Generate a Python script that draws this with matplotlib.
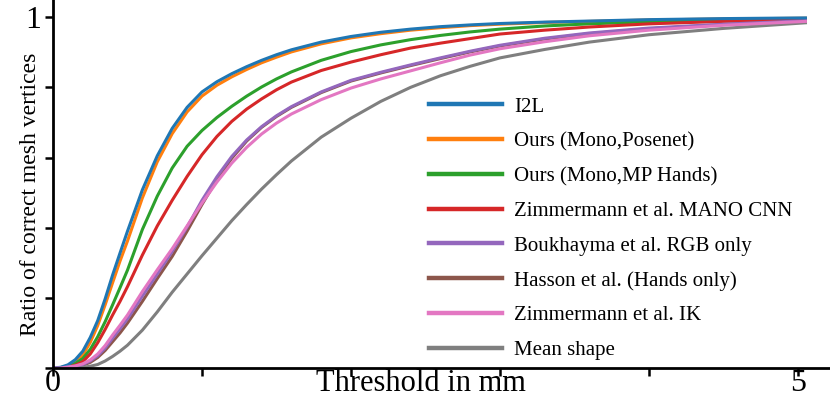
import matplotlib
matplotlib.use("Agg")
import matplotlib.pyplot as plt

plt.rcParams['font.family'] = ['Liberation Serif', 'DejaVu Serif']

thresholds = [0, 0.05, 0.1, 0.15, 0.2, 0.25, 0.3, 0.35, 0.4, 0.45, 0.5, 0.6, 0.7, 0.8, 0.9, 1.0,
              1.1, 1.2, 1.3, 1.4, 1.5, 1.6, 1.8, 2.0, 2.2, 2.4, 2.6, 2.8, 3.0, 3.3, 3.6, 4.0, 4.5, 5.05]

i2l          = [0, 0.002, 0.009, 0.024, 0.048, 0.087, 0.135, 0.197, 0.265, 0.328, 0.390, 0.508, 0.605, 0.683, 0.743, 0.787,
                0.816, 0.839, 0.859, 0.877, 0.893, 0.907, 0.929, 0.945, 0.957, 0.966, 0.973, 0.978, 0.982, 0.986, 0.989, 0.993, 0.996, 0.998]
ours_posenet = [0, 0.001, 0.006, 0.017, 0.037, 0.073, 0.121, 0.180, 0.243, 0.305, 0.362, 0.485, 0.588, 0.668, 0.730, 0.775,
                0.806, 0.830, 0.851, 0.870, 0.886, 0.901, 0.924, 0.941, 0.953, 0.963, 0.970, 0.976, 0.980, 0.985, 0.988, 0.992, 0.995, 0.997]
ours_mp      = [0, 0.001, 0.005, 0.013, 0.027, 0.053, 0.089, 0.132, 0.180, 0.229, 0.279, 0.395, 0.490, 0.570, 0.632, 0.677,
                0.714, 0.746, 0.775, 0.801, 0.824, 0.844, 0.877, 0.902, 0.921, 0.936, 0.948, 0.958, 0.966, 0.975, 0.981, 0.987, 0.991, 0.995]
zimm_mano    = [0, 0.0005, 0.003, 0.008, 0.018, 0.040, 0.072, 0.110, 0.151, 0.190, 0.232, 0.322, 0.405, 0.478, 0.546, 0.608,
                0.660, 0.703, 0.738, 0.767, 0.793, 0.815, 0.848, 0.872, 0.893, 0.912, 0.926, 0.939, 0.952, 0.963, 0.972, 0.981, 0.988, 0.993]
boukhayma    = [0, 0.0, 0.002, 0.005, 0.010, 0.020, 0.035, 0.057, 0.085, 0.112, 0.140, 0.205, 0.268, 0.332, 0.402, 0.478,
                0.545, 0.603, 0.650, 0.688, 0.719, 0.745, 0.787, 0.820, 0.843, 0.864, 0.884, 0.903, 0.920, 0.940, 0.955, 0.969, 0.980, 0.990]
hasson       = [0, 0.0, 0.001, 0.004, 0.008, 0.016, 0.030, 0.050, 0.075, 0.100, 0.128, 0.190, 0.255, 0.318, 0.390, 0.466,
                0.537, 0.598, 0.647, 0.686, 0.717, 0.743, 0.785, 0.818, 0.841, 0.862, 0.882, 0.901, 0.918, 0.938, 0.953, 0.967, 0.979, 0.989]
zimm_ik      = [0, 0.0, 0.003, 0.006, 0.012, 0.023, 0.040, 0.064, 0.094, 0.122, 0.151, 0.218, 0.280, 0.340, 0.405, 0.470,
                0.530, 0.584, 0.629, 0.667, 0.698, 0.724, 0.765, 0.798, 0.824, 0.847, 0.870, 0.892, 0.910, 0.930, 0.947, 0.963, 0.977, 0.988]
mean_shape   = [0, 0.0, 0.0, 0.001, 0.002, 0.005, 0.010, 0.020, 0.033, 0.048, 0.065, 0.108, 0.160, 0.216, 0.268, 0.320,
                0.370, 0.420, 0.466, 0.510, 0.551, 0.590, 0.658, 0.712, 0.760, 0.800, 0.833, 0.860, 0.884, 0.908, 0.929, 0.950, 0.968, 0.984]

labels = ["I2L", "Ours (Mono,Posenet)", "Ours (Mono,MP Hands)", "Zimmermann et al. MANO CNN",
          "Boukhayma et al. RGB only", "Hasson et al. (Hands only)", "Zimmermann et al. IK", "Mean shape"]
series = [i2l, ours_posenet, ours_mp, zimm_mano, boukhayma, hasson, zimm_ik, mean_shape]
colors = ["#1f77b4", "#ff7f0e", "#2ca02c", "#d62728", "#9467bd", "#8c564b", "#e377c2", "#7f7f7f"]
zorders = [2.1, 2.0, 2.0, 2.0, 2.05, 2.0, 2.1, 2.0]

x_ticks = [0, 1, 2, 3, 4, 5]
x_ticklabels = ["0", "", "", "", "", "5"]
y_ticks = [0, 0.2, 0.4, 0.6, 0.8, 1.0]
y_ticklabels = ["", "", "", "", "", "1"]

fig = plt.figure(figsize=(8.3, 4.0), dpi=100)
ax = fig.add_axes([53/830, 32/400, 777/830, 368/400])

for vals, lab, col, z in zip(series, labels, colors, zorders):
    ax.plot(thresholds, vals, color=col, lw=2.2, label=lab, solid_joinstyle='round', zorder=z)

ax.set_xlim(0, 5.215)
ax.set_ylim(0, 1.049)
ax.set_xticks(x_ticks)
ax.set_xticklabels(x_ticklabels)
ax.set_yticks(y_ticks)
ax.set_yticklabels(y_ticklabels)
ax.spines['top'].set_visible(False)
ax.spines['right'].set_visible(False)
for s in ['left', 'bottom']:
    ax.spines[s].set_linewidth(2.0)
ax.tick_params(axis='both', width=1.8, length=5.5, labelsize=23)
ax.tick_params(axis='x', pad=-4.5)
ax.tick_params(axis='y', pad=3)

ax.set_xlabel("Threshold in mm", fontsize=22)
ax.xaxis.set_label_coords(0.4736, -0.003)
ax.set_ylabel("Ratio of correct mesh vertices", fontsize=17)
ax.yaxis.set_label_coords(-0.015, 0.471)

leg = ax.legend(loc='upper left', bbox_to_anchor=(429/830, 1 - 97/400), bbox_transform=fig.transFigure,
                frameon=False, fontsize=15, handlelength=3.5, handletextpad=0.6,
                labelspacing=0.73, borderpad=0, borderaxespad=0)
for ln in leg.get_lines():
    ln.set_linewidth(3.2)

fig.savefig("out.png", dpi=100)
